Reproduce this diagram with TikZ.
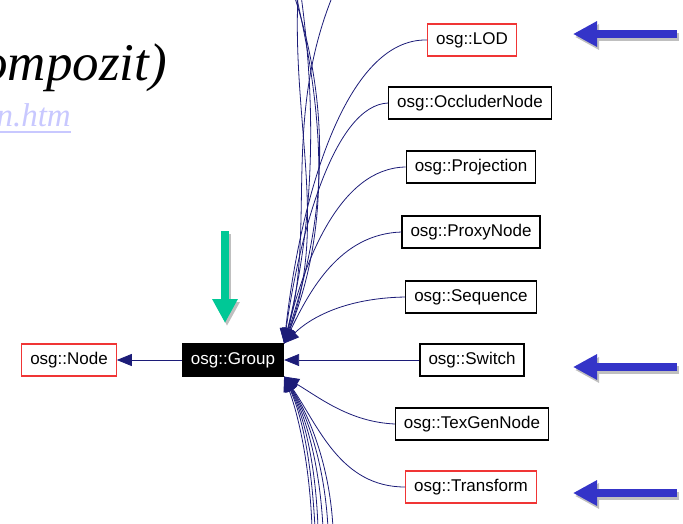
\documentclass[tikz,border=0pt]{standalone}
\usepackage{fontspec}
\setmainfont{Liberation Serif}
\setsansfont{Liberation Sans}
\usepackage{tikz}
\usetikzlibrary{arrows.meta, calc}
\usepackage{xcolor}
\definecolor{edgeblue}{HTML}{1C1C78}
\definecolor{boxred}{HTML}{F03535}
\definecolor{markblue}{HTML}{3434C8}
\definecolor{markgreen}{HTML}{00C896}
\definecolor{linkblue}{HTML}{C8C8FF}
\tikzset{
  cls/.style={draw, line width=1.1pt, font=\sffamily\fontsize{17}{17}\selectfont,
    inner xsep=8.5pt, inner ysep=0pt, minimum height=32pt},
  redcls/.style={cls, draw=boxred},
  inh/.style={draw=edgeblue, line width=0.8pt, -{Triangle[length=15pt,width=12pt]}},
  bigarrow/.style={line width=8pt, -{Triangle[length=24pt,width=24pt]}},
}

\begin{document}
\begin{tikzpicture}[x=1pt, y=-1pt]
        \useasboundingbox (0,0) rectangle (683,523);
        \node[anchor=base east, inner sep=0pt, font=\fontsize{53}{53}\selectfont\itshape] (title) at (167,80) {ompozit)};
        \node[anchor=base east, inner sep=0pt, text=linkblue, font=\fontsize{33}{33}\selectfont\itshape] (link) at (71,126) {n.htm};
        \draw[linkblue, line width=1.2pt] (0,132) -- (link.base east |- 0,132);
        \node[cls, fill=black, text=white, draw=black] (grp) at (233,360) {osg::Group};
        \node[redcls] (base) at (69,360) {osg::Node};
        \node[redcls] (lod) at (472,40) {osg::LOD};
        \node[cls] (occl) at (470,103) {osg::OccluderNode};
        \node[cls] (proj) at (471,167) {osg::Projection};
        \node[cls] (proxy) at (471,232) {osg::ProxyNode};
        \node[cls] (seq) at (471,297) {osg::Sequence};
        \node[cls] (sw) at (472,360) {osg::Switch};
        \node[cls] (texgen) at (472,424) {osg::TexGenNode};
        \node[redcls] (xform) at (471,487) {osg::Transform};
        \draw[inh] (grp.west) -- (base.east);
        \draw[inh] (lod.west) .. controls (345,38) and (300,200) .. (grp.north east);
        \draw[inh] (occl.west) .. controls (335,105) and (300,230) .. (grp.north east);
        \draw[inh] (proj.west) .. controls (340,168) and (305,260) .. (grp.north east);
        \draw[inh] (proxy.west) .. controls (340,234) and (310,290) .. (grp.north east);
        \draw[inh] (seq.west) .. controls (345,298) and (310,318) .. (grp.north east);
        \draw[inh] (sw.west) -- (grp.east);
        \draw[inh] (texgen.west) .. controls (350,422) and (320,398) .. (grp.south east);
        \draw[inh] (xform.west) .. controls (340,487) and (318,425) .. (grp.south east);
        % edges from classes above and below the visible part
        \foreach \xa/\ca/\cb [count=\i] in {294/335/322, 296/325/330, 298/292/328, 301/318/312, 333/282/316} {
          \coordinate (top\i) at (\xa,-5);
          \draw[inh] (top\i) .. controls (\ca,120) and (\cb,230) .. (grp.north east);
        }
        \foreach \xa/\ca/\cb [count=\i] in {312/310/300, 315/312/304, 318/316/306, 323/320/308, 328/325/310, 333/330/312} {
          \coordinate (bot\i) at (\xa,528);
          \draw[inh] (bot\i) .. controls (\ca,470) and (\cb,420) .. (grp.south east);
        }
        \foreach \y [count=\i] in {34,367,493} {
          \coordinate (mt\i) at (677,\y);
          \coordinate (mh\i) at (573,\y);
          \draw[bigarrow, black!25] ($(mt\i)+(2,3)$) -- ($(mh\i)+(2,3)$);
          \draw[bigarrow, markblue] (mt\i) -- (mh\i);
        }
        \coordinate (gt) at (225,231);
        \coordinate (gh) at (225,323);
        \draw[bigarrow, black!25] ($(gt)+(2,3)$) -- ($(gh)+(2,3)$);
        \draw[bigarrow, markgreen] (gt) -- (gh);
\end{tikzpicture}
\end{document}
